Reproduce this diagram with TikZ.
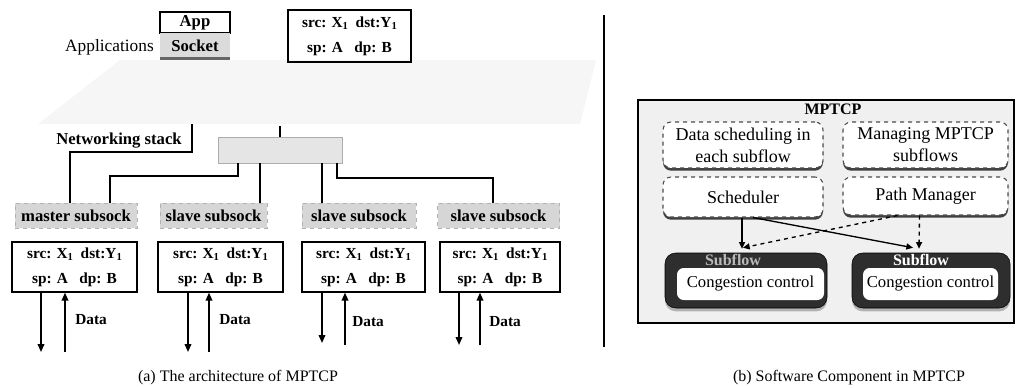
\documentclass[tikz,border=0pt]{standalone}
\usepackage{fontspec}
\setmainfont{Liberation Serif}
\usetikzlibrary{arrows.meta,calc,shadows}
\newcommand\mysub[1]{\raisebox{-0.35ex}{\fontsize{8}{8}\selectfont #1}}
\begin{document}
\begin{tikzpicture}[x=0.75pt,y=-0.75pt,
  lbl/.style={font=\fontsize{12.5}{15}\selectfont\bfseries, inner sep=0pt},
  addr/.style={draw, line width=1pt, minimum height=37.5pt, align=center, inner sep=0pt,
    font=\fontsize{11.5}{19}\selectfont\bfseries},
  subsock/.style={draw=gray!60, dashed, fill=gray!32, minimum height=18.75pt, inner sep=0pt,
    font=\fontsize{12.5}{15}\selectfont\bfseries},
  conn/.style={line width=1.3pt},
  darr/.style={line width=1.2pt, -{Triangle[length=6pt,width=5pt]}},
  dbox/.style={draw=black!70, dashed, line width=0.8pt, fill=white, rounded corners=6pt,
    align=center, inner sep=0pt, font=\fontsize{13.5}{16.5}\selectfont,
    drop shadow={shadow xshift=0pt, shadow yshift=-2pt, fill=black!75, opacity=1}},
  sbox/.style={draw=black, fill=black!82, rounded corners=8pt, inner sep=0pt,
    drop shadow={shadow xshift=0pt, shadow yshift=-2.5pt, fill=gray!60, opacity=1}},
  ccbox/.style={fill=white, rounded corners=5pt, inner sep=0pt, minimum height=24pt,
    font=\fontsize{12.5}{15}\selectfont},
  sarr/.style={line width=1pt, -{Triangle[length=5pt,width=4.5pt]}},
  captxt/.style={font=\fontsize{12}{14}\selectfont, inner sep=0pt}]
\useasboundingbox (0,0) rectangle (1019,388);

% ---------- (a) left panel ----------
\fill[gray!7] (120,60) -- (596,60) -- (580,124) -- (38,124) -- cycle;
\coordinate (ns) at (192,124);
\coordinate (pb) at (280,126);

\node[draw, line width=0.8pt, minimum width=52.5pt, minimum height=15.75pt, lbl] (app) at (195,22.5) {App};
\node[fill=gray!28, minimum width=52.5pt, minimum height=18.75pt, lbl] (socket) at (195,45.5) {Socket};
\draw[line width=2pt, black!60] (socket.south west) -- (socket.south east);
\node[anchor=east, inner sep=0pt, font=\fontsize{13}{15}\selectfont] (appl) at (154,47) {Applications};

\node[addr, minimum width=92.25pt, minimum height=39pt] (topaddr) at (349.5,36)
  {src: X\mysub{1}\ \ dst:Y\mysub{1}\\sp: A\ \ \ dp: B};

\node[fill=gray!20, draw=gray!65, minimum width=93pt, minimum height=19.5pt] (mid) at (280,150) {};
\node[anchor=east, lbl] (nettext) at (182,141) {Networking stack};

\node[subsock, minimum width=91.5pt] (master) at (76,215.5) {master subsock};
\node[subsock, minimum width=80.25pt] (slave1) at (213.5,215.5) {slave subsock};
\node[subsock, minimum width=85.5pt] (slave2) at (359,215.5) {slave subsock};
\node[subsock, minimum width=91.5pt] (slave3) at (498.5,215.5) {slave subsock};

\draw[conn] (pb) -- (mid.north);
\draw[conn] (ns) -- ++(0,28) -| ($(master.north)+(-6,0)$);
\draw[conn] ($(mid.south)+(-42,0)$) -- ++(0,13) -| ($(master.north)+(34,0)$);
\draw[conn] ($(mid.south)+(-20,0)$) -- ($(slave1.north)+(46.5,0)$);
\draw[conn] ($(mid.south)+(42,0)$) -- ($(slave2.north)+(-37,0)$);
\draw[conn] ($(mid.south)+(57,0)$) -- ++(0,15) -| ($(slave3.north)+(-5.5,0)$);

\node[addr, minimum width=93.75pt] (addr1) at (74.5,267) {src: X\mysub{1}\ \ dst:Y\mysub{1}\\sp: A\ \ \ dp: B};
\node[addr, minimum width=93.75pt] (addr2) at (220.5,267) {src: X\mysub{1}\ \ dst:Y\mysub{1}\\sp: A\ \ \ dp: B};
\node[addr, minimum width=92.25pt] (addr3) at (363.5,267) {src: X\mysub{1}\ \ dst:Y\mysub{1}\\sp: A\ \ \ dp: B};
\node[addr, minimum width=90pt] (addr4) at (500,267) {src: X\mysub{1}\ \ dst:Y\mysub{1}\\sp: A\ \ \ dp: B};

\coordinate (d1) at (41,352);  \coordinate (u1) at (65,352);
\coordinate (d2) at (188,352); \coordinate (u2) at (209,352);
\coordinate (d3) at (322,343); \coordinate (u3) at (345,345);
\coordinate (d4) at (459,345); \coordinate (u4) at (480,345);

\draw[darr] (addr1.south -| d1) -- (d1);
\draw[darr] (u1) -- (addr1.south -| u1);
\draw[darr] (addr2.south -| d2) -- (d2);
\draw[darr] (u2) -- (addr2.south -| u2);
\draw[darr] (addr3.south -| d3) -- (d3);
\draw[darr] (u3) -- (addr3.south -| u3);
\draw[darr] (addr4.south -| d4) -- (d4);
\draw[darr] (u4) -- (addr4.south -| u4);

\node[anchor=west, lbl, font=\fontsize{11.5}{14}\selectfont\bfseries] (data1) at (75,320) {Data};
\node[anchor=west, lbl, font=\fontsize{11.5}{14}\selectfont\bfseries] (data2) at (219,320) {Data};
\node[anchor=west, lbl, font=\fontsize{11.5}{14}\selectfont\bfseries] (data3) at (352,322) {Data};
\node[anchor=west, lbl, font=\fontsize{11.5}{14}\selectfont\bfseries] (data4) at (489,322) {Data};

\node[captxt] (capa) at (238,378) {(a) The architecture of MPTCP};

% divider
\coordinate (dvt) at (604,15);
\coordinate (dvb) at (604,347);
\draw[line width=1pt] (dvt) -- (dvb);

% ---------- (b) right panel ----------
\node[draw, line width=1pt, fill=gray!12, minimum width=282pt, minimum height=167.25pt] (outer) at (826,211.5) {};
\node[inner sep=0pt, font=\fontsize{12}{14}\selectfont\bfseries] (mptcp) at (833,109) {MPTCP};

\node[dbox, minimum width=120pt, minimum height=34.5pt] (ds) at (743,145) {Data scheduling in\\each subflow};
\node[dbox, minimum width=123.75pt, minimum height=34.5pt] (mm) at (925.5,145) {Managing MPTCP\\subflows};
\node[dbox, minimum width=120pt, minimum height=30pt] (sched) at (743,197) {Scheduler};
\node[dbox, minimum width=123.75pt, minimum height=28.5pt] (pm) at (925.5,196) {Path Manager};

\node[sbox, minimum width=121.5pt, minimum height=41.25pt] (sub1) at (746,280.5) {};
\node[ccbox, minimum width=110.25pt] (cc1) at (750.5,284) {Congestion control};
\node[sbox, minimum width=118.5pt, minimum height=41.25pt] (sub2) at (931,280.5) {};
\node[ccbox, minimum width=101.25pt] (cc2) at (930.5,284) {Congestion control};
\node[inner sep=0pt, font=\fontsize{12}{14}\selectfont\bfseries, text=gray!55] (sf1) at ($(sub1.north)+(-13,7)$) {Subflow};
\node[inner sep=0pt, font=\fontsize{12}{14}\selectfont\bfseries, text=white] (sf2) at ($(sub2.north)+(-10,7)$) {Subflow};

\draw[sarr] ($(sched.south)+(-1,0)$) -- ($(sub1.north)+(-4,-4)$);
\draw[sarr] ($(sched.south)+(10,0)$) -- ($(sub2.north)+(-18,-5)$);
\draw[sarr, dashed] ($(pm.south)+(-6,0)$) -- ($(sub2.north)+(-12,-4)$);
\draw[sarr, dashed] ($(pm.south)+(-28,0)$) -- ($(sub1.north)+(-3,-5)$);

\node[captxt] (capb) at (849,378) {(b) Software Component in MPTCP};
\end{tikzpicture}
\end{document}
